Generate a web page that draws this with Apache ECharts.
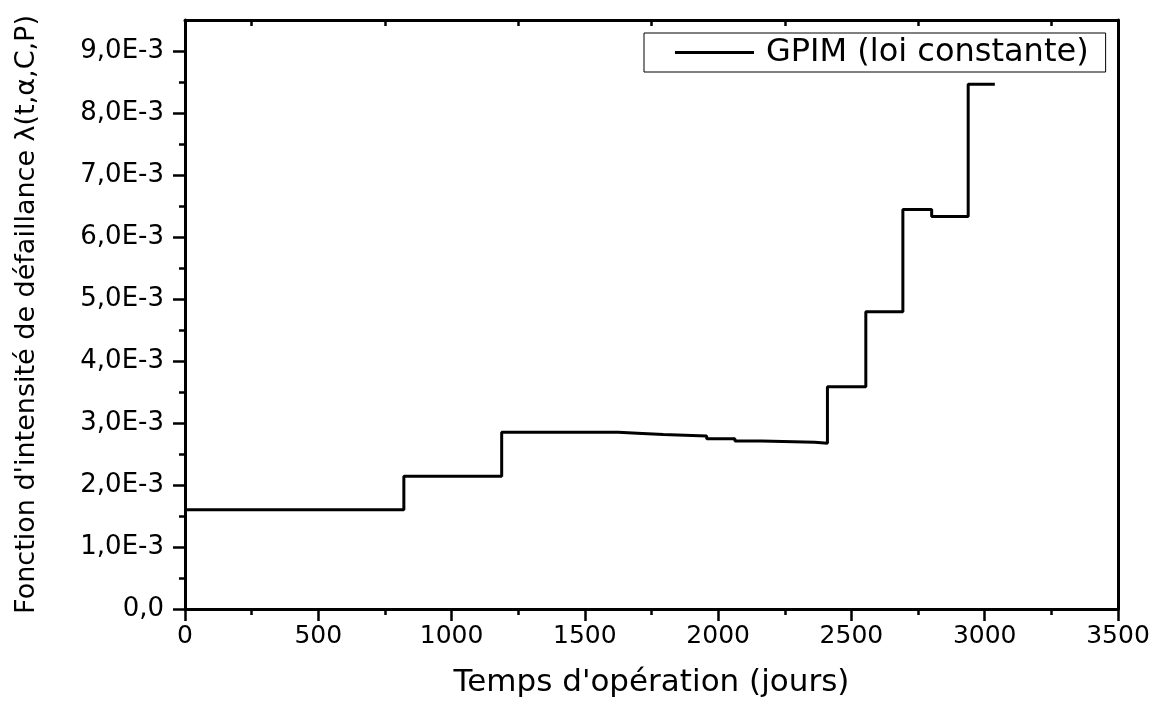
<!DOCTYPE html>
<html>
<head>
<meta charset="utf-8">
<script src="https://cdn.jsdelivr.net/npm/echarts@6/dist/echarts.min.js"></script>
<style>
html,body{margin:0;padding:0;background:#fff;}
#chart{width:1162px;height:704px;}
</style>
</head>
<body>
<div id="chart"></div>
<script>
// Step change times (jours) and the level holding from each time (x1E-3)
const times = [0, 821, 1188, 1625, 1697, 1794, 1957, 2063, 2163, 2363, 2410, 2554, 2693, 2801, 2938, 3038];
const levels = [1.60, 2.14, 2.85, 2.835, 2.813, 2.792, 2.744, 2.711, 2.689, 2.675, 3.583, 4.793, 6.444, 6.33, 8.462, 8.462];
const seriesName = 'GPIM (loi constante)';
const xTitle = "Temps d'opération (jours)";
const yTitle = "Fonction d'intensité de défaillance λ(t,α,C,P)";
const yTickValues = [0, 0.001, 0.002, 0.003, 0.004, 0.005, 0.006, 0.007, 0.008, 0.009];

const FONT = 'DejaVu Sans';
const data = times.map((t, i) => [t, levels[i] / 1000]);

function fmtY(v) {
  const k = v * 1000;
  if (Math.abs(k) < 1e-9) return '0,0';
  return k.toFixed(1).replace('.', ',') + 'E-3';
}

const chart = echarts.init(document.getElementById('chart'), null, {renderer: 'canvas'});
const axisLine = {show: true, onZero: false, lineStyle: {color: '#000', width: 3}};
chart.setOption({
  animation: false,
  backgroundColor: '#fff',
  grid: {left: 185, right: 44, top: 20, bottom: 95, containLabel: false},
  legend: {
    left: 644, top: 33,
    borderColor: '#000', borderWidth: 1,
    padding: [3, 17, 3, 31],
    itemWidth: 79, itemHeight: 3,
    icon: 'rect',
    itemStyle: {color: '#000'},
    textStyle: {fontFamily: FONT, fontSize: 32, color: '#000', lineHeight: 33, padding: [0, 0, 0, 7]},
    data: [seriesName]
  },
  xAxis: [{
    type: 'value', position: 'bottom', min: 0, max: 3500, interval: 500,
    axisLine: axisLine,
    axisTick: {show: true, inside: false, length: 12, lineStyle: {color: '#000', width: 2.5}},
    minorTick: {show: true, splitNumber: 2, length: 6, lineStyle: {color: '#000', width: 2.5}},
    splitLine: {show: false},
    axisLabel: {fontFamily: FONT, fontSize: 25, color: '#000', margin: 15, formatter: v => String(v)},
    name: xTitle, nameLocation: 'middle', nameGap: 58,
    nameTextStyle: {fontFamily: FONT, fontSize: 31, color: '#000'}
  }, {
    type: 'value', position: 'top', min: 0, max: 3500, interval: 500,
    axisLine: axisLine,
    axisTick: {show: false, inside: true},
    minorTick: {show: true, splitNumber: 2, length: 6, lineStyle: {color: '#000', width: 2.5}},
    splitLine: {show: false},
    axisLabel: {show: false}
  }],
  yAxis: [{
    type: 'value', position: 'left', min: 0, max: 0.0095, interval: 0.001,
    axisLine: axisLine,
    axisTick: {show: true, inside: false, length: 12, lineStyle: {color: '#000', width: 2.5}, customValues: yTickValues},
    minorTick: {show: true, splitNumber: 2, length: 6, lineStyle: {color: '#000', width: 2.5}},
    splitLine: {show: false},
    axisLabel: {fontFamily: FONT, fontSize: 26, color: '#000', margin: 21, formatter: fmtY, customValues: yTickValues},
    name: yTitle, nameLocation: 'middle', nameGap: 145, nameRotate: 90,
    nameTextStyle: {fontFamily: FONT, fontSize: 27, color: '#000'}
  }, {
    type: 'value', position: 'right', min: 0, max: 0.0095, interval: 0.001,
    axisLine: axisLine,
    axisTick: {show: false}, minorTick: {show: false},
    splitLine: {show: false}, axisLabel: {show: false}
  }],
  series: [{
    name: seriesName, type: 'line', step: 'end',
    xAxisIndex: 0, yAxisIndex: 0,
    data: data,
    symbol: 'none', showSymbol: false,
    lineStyle: {color: '#000', width: 3},
    itemStyle: {color: '#000'}
  }]
});
</script>
</body>
</html>
